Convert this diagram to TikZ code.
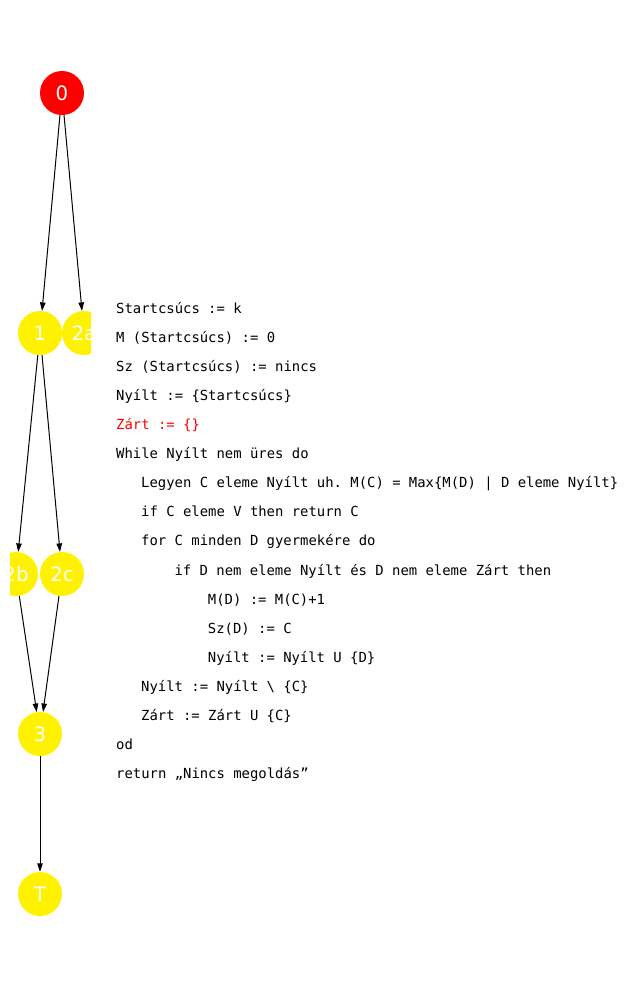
\documentclass[tikz,border=0pt]{standalone}
\usepackage{fontspec}
\setmainfont{DejaVu Sans}
\setmonofont{DejaVu Sans Mono}
\usepackage{tikz}
\usetikzlibrary{arrows.meta}

\tikzset{
  state/.style={circle,fill=yellow,text=white,minimum size=44pt,inner sep=0pt,
    font=\fontsize{19.8}{20}\selectfont},
  start/.style={state,fill=red},
  edge/.style={line width=1pt,-{Triangle[length=8.5pt,width=5.5pt]}},
  codeline/.style={inner sep=0pt,anchor=base west,
    font=\ttfamily\fontsize{13.9}{16}\selectfont}
}

\begin{document}
\begin{tikzpicture}[x=1pt,y=-1pt]
        \useasboundingbox[fill=white] (0,0) rectangle (628,989);

        % graph, cut at the sides like the plot area
        \begin{scope}
        \clip (10,0) rectangle (91,989);
        \node[start] (n0) at (62,93) {0};
        \node[state] (n1) at (40,333) {1};
        \node[state] (n2a) at (84,333) {2a};
        \node[state] (n2b) at (16,574) {2b};
        \node[state] (n2c) at (62,574) {2c};
        \node[state] (n3) at (40,734) {3};
        \node[state] (nT) at (40,894) {T};

        \draw[edge] (n0) -- (n1);
        \draw[edge] (n0) -- (n2a);
        \draw[edge] (n1) -- (n2b);
        \draw[edge] (n1) -- (n2c);
        \draw[edge] (n2b) -- (n3);
        \draw[edge] (n2c) -- (n3);
        \draw[edge] (n3) -- (nT);
        \end{scope}

        % pseudo code
        \foreach \ind/\txt [count=\i] in {
            0/Startcsúcs := k,
            0/M (Startcsúcs) := 0,
            0/Sz (Startcsúcs) := nincs,
            0/Nyílt := \{Startcsúcs\},
            0/\textcolor{red}{Zárt := \{\}},
            0/While Nyílt nem üres do,
            3/Legyen C eleme Nyílt uh. M(C) = Max\{M(D) | D eleme Nyílt\},
            3/if C eleme V then return C,
            3/for C minden D gyermekére do,
            7/if D nem eleme Nyílt és D nem eleme Zárt then,
            11/M(D) := M(C)+1,
            11/Sz(D) := C,
            11/Nyílt := Nyílt U \{D\},
            3/Nyílt := Nyílt \textbackslash{} \{C\},
            3/Zárt := Zárt U \{C\},
            0/od,
            0/return „Nincs megoldás”}
            \node[codeline] (l\i) at (116+8.34*\ind,313.5+29.06*\i-29.06) {\txt};
    \end{tikzpicture}
\end{document}
